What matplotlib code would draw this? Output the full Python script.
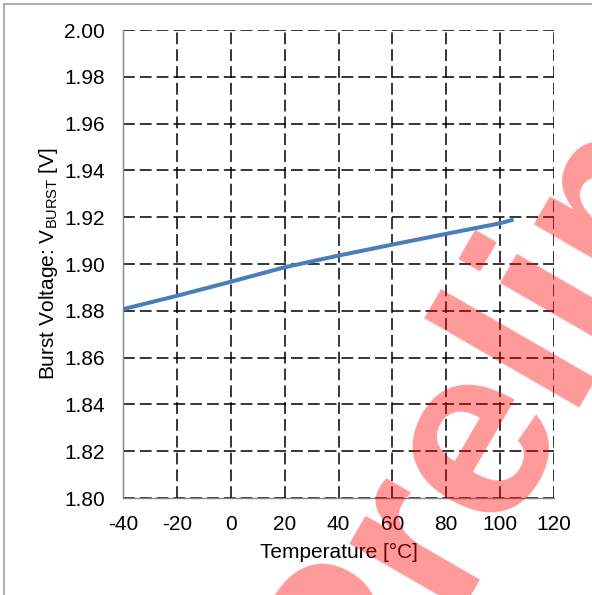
import numpy as np
import matplotlib
matplotlib.use("Agg")
import matplotlib.pyplot as plt
from matplotlib.lines import Line2D

plt.rcParams['font.family'] = ['Liberation Sans', 'DejaVu Sans']
plt.rcParams['mathtext.fontset'] = 'custom'
plt.rcParams['mathtext.rm'] = 'Liberation Sans'
plt.rcParams['lines.scale_dashes'] = False
plt.rcParams['axes.unicode_minus'] = False

# ~~~~~~~~ data ~~~~~~~~
temp = [-40, -20, 0, 20, 40, 60, 80, 100, 105]
v_burst = [1.8807, 1.8864, 1.8924, 1.8986, 1.9036, 1.9083, 1.9129, 1.9174, 1.919]
xticks = [-40, -20, 0, 20, 40, 60, 80, 100, 120]
yticks = [1.80, 1.82, 1.84, 1.86, 1.88, 1.90, 1.92, 1.94, 1.96, 1.98, 2.00]
# ~~~~~~~~~~~~~~~~~~~~~~~~~~~~~~~~~~~~~~~~~~~~

W, H = 592, 595
fig = plt.figure(figsize=(W/100, H/100), dpi=100)
ax = fig.add_axes([123/W, 1-498/H, (554-123)/W, (498-30)/H])

ax.plot(temp, v_burst, color='#4A7EBB', lw=2.9, solid_capstyle='butt', zorder=3)

ax.set_xlim(-40, 120)
ax.set_ylim(1.80, 2.00)
ax.set_xticks(xticks)
ax.set_yticks(yticks)
ax.set_yticklabels(['%.2f' % v for v in yticks])
ax.grid(True, color='black', lw=1.1, linestyle=(0, (8.5, 3.6)))
ax.set_axisbelow(True)
for s in ['top', 'right']:
    ax.spines[s].set_visible(False)
for s in ['left', 'bottom']:
    ax.spines[s].set_color('#868686')
    ax.spines[s].set_linewidth(1.0)
ax.tick_params(length=0, labelsize=15)
ax.tick_params(axis='x', pad=12)
ax.tick_params(axis='y', pad=13)

ax.set_xlabel('Temperature [°C]', fontsize=15, labelpad=7)
ax.set_ylabel(r'Burst Voltage: V$_{\mathregular{BURST}}$ [V]', fontsize=15, labelpad=3)

# outer frame
fig.add_artist(Line2D([4/W, 1], [1-4/H, 1-4/H], color='#A0A0A0', lw=1.2))
fig.add_artist(Line2D([4/W, 4/W], [0, 1-4/H], color='#A0A0A0', lw=1.2))

# watermark
fig.text(0.617, -0.262, 'Preliminary', rotation=60, rotation_mode='anchor',
         ha='left', va='baseline', fontsize=177, fontweight='bold',
         color='red', alpha=0.4, zorder=10)

fig.savefig('out.png', dpi=100)
